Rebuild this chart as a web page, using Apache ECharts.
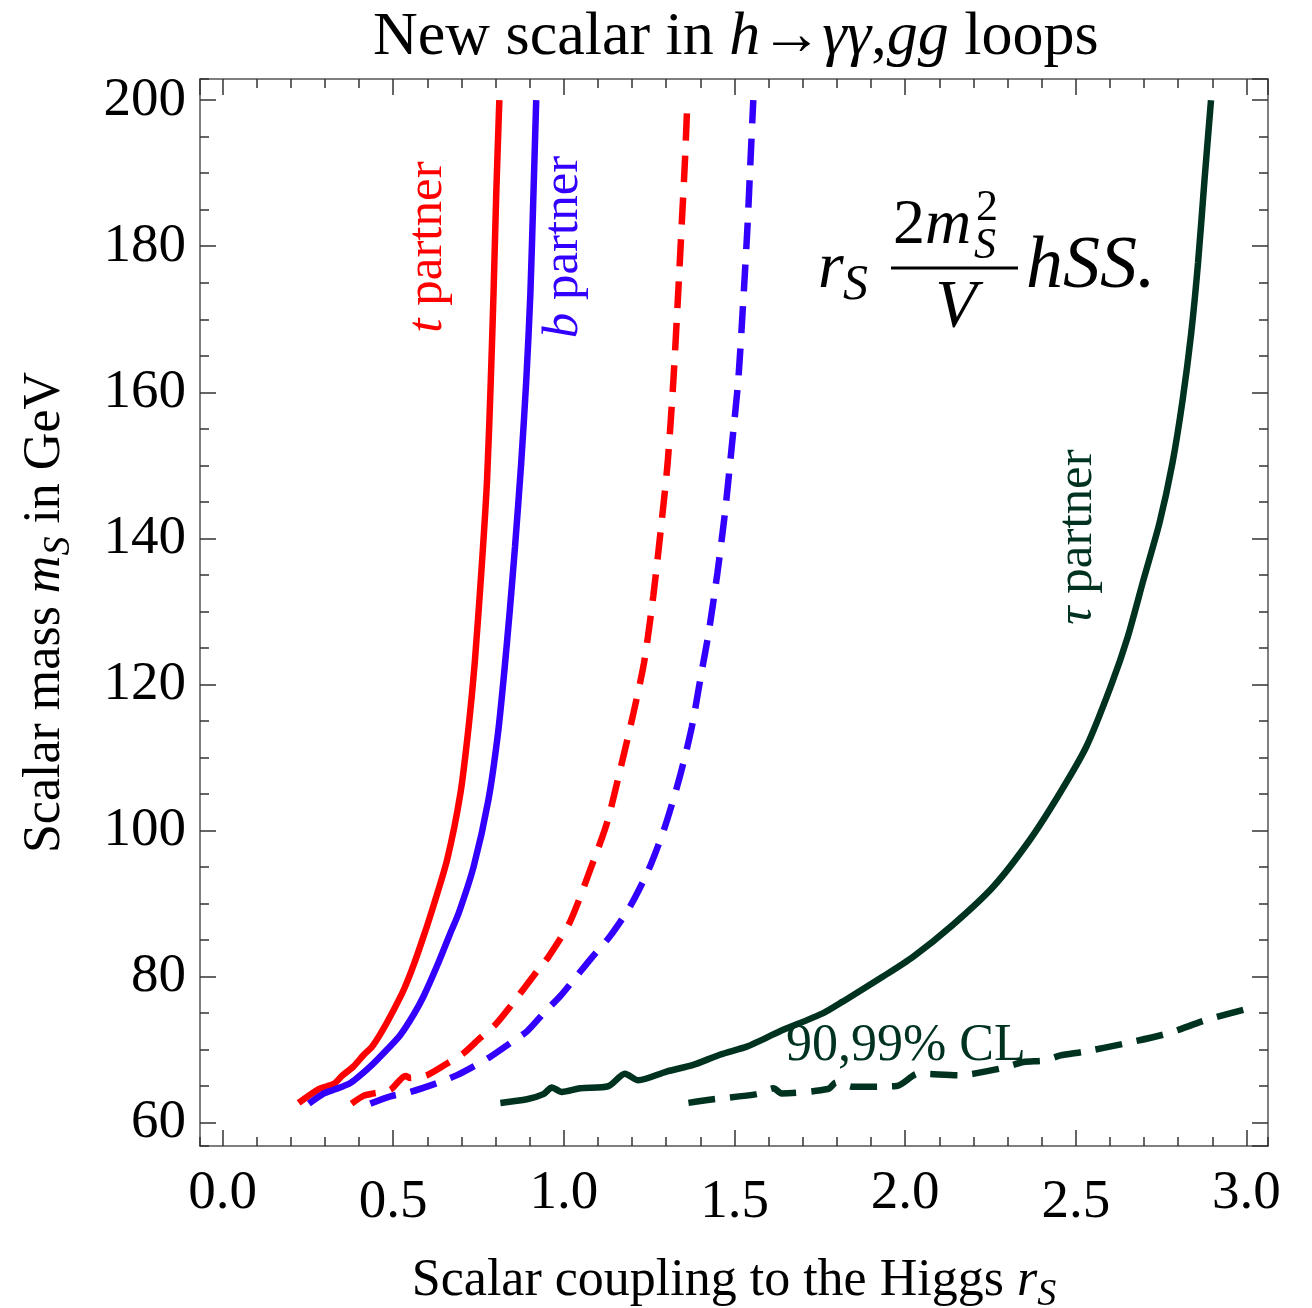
<!DOCTYPE html>
<html>
<head>
<meta charset="utf-8">
<script src="https://cdn.jsdelivr.net/npm/echarts@6/dist/echarts.min.js"></script>
<style>html,body{margin:0;padding:0;background:#fff}#c{width:1312px;height:1308px}</style>
</head>
<body>
<div id="c"></div>
<script>
// ---- data (x = r_S, y = m_S in GeV) ----
const tSolid = [[0.223,62.7],[0.282,64.6],[0.326,65.3],[0.350,66.4],[0.384,67.7],[0.414,69.3],[0.438,70.4],[0.467,72.5],[0.501,75.4],[0.531,78.2],[0.560,81.6],[0.589,85.5],[0.614,89.1],[0.658,96.0],[0.697,105.1],[0.721,114.2],[0.739,123.0],[0.760,136.6],[0.775,148.0],[0.786,161.7],[0.794,173.6],[0.802,187.3],[0.811,200.0]];
const bSolid = [[0.253,62.6],[0.297,64.0],[0.326,64.5],[0.370,65.3],[0.394,66.1],[0.438,67.9],[0.482,70.0],[0.521,72.0],[0.560,74.8],[0.589,77.3],[0.628,81.4],[0.667,85.9],[0.692,88.7],[0.736,95.1],[0.779,104.2],[0.807,113.3],[0.826,122.0],[0.841,129.8],[0.857,138.9],[0.875,150.3],[0.890,161.7],[0.902,173.6],[0.911,187.3],[0.919,200.0]];
const tDashed = [[0.378,62.6],[0.414,63.7],[0.443,64.0],[0.492,64.5],[0.536,66.4],[0.550,66.1],[0.599,66.5],[0.658,68.1],[0.706,69.5],[0.755,71.6],[0.799,73.4],[0.843,75.9],[0.921,80.7],[0.955,82.7],[1.018,87.5],[1.077,94.6],[1.126,101.0],[1.165,108.3],[1.204,116.1],[1.235,123.0],[1.262,132.1],[1.284,141.2],[1.304,150.3],[1.321,161.7],[1.335,173.6],[1.345,182.7],[1.355,191.9],[1.362,200.0]];
const bDashed = [[0.433,62.6],[0.492,63.6],[0.550,64.2],[0.628,65.4],[0.687,66.5],[0.736,67.7],[0.784,69.0],[0.843,70.9],[0.892,72.5],[0.941,75.0],[0.989,77.3],[1.028,79.5],[1.080,82.5],[1.135,85.5],[1.194,89.6],[1.248,94.6],[1.296,100.5],[1.340,107.4],[1.375,114.2],[1.402,121.3],[1.424,127.0],[1.450,135.3],[1.472,143.5],[1.492,152.6],[1.511,161.7],[1.527,173.6],[1.538,182.7],[1.547,191.9],[1.555,200.0]];
const tauSolid = [[0.814,62.7],[0.892,63.2],[0.940,63.9],[0.965,64.8],[0.994,64.2],[1.048,64.7],[1.131,65.0],[1.179,66.7],[1.218,65.8],[1.301,67.0],[1.379,67.9],[1.457,69.3],[1.536,70.4],[1.574,71.2],[1.633,72.5],[1.760,75.0],[1.818,76.6],[1.935,80.0],[2.023,82.7],[2.140,87.1],[2.258,92.3],[2.365,98.7],[2.453,105.1],[2.531,111.5],[2.602,119.7],[2.652,126.5],[2.698,134.3],[2.745,142.1],[2.783,150.3],[2.813,159.0],[2.838,168.1],[2.858,177.7],[2.877,189.1],[2.896,200.0]];
const tauDashed = [[1.365,62.7],[1.438,63.2],[1.565,63.9],[1.614,64.7],[1.638,64.0],[1.774,64.6],[1.798,65.5],[1.848,64.9],[1.975,65.0],[2.038,66.7],[2.161,66.5],[2.278,67.4],[2.347,68.3],[2.406,68.5],[2.455,69.2],[2.523,69.7],[2.640,70.8],[2.768,72.2],[2.885,74.1],[3.012,75.7]];

const xRange = [-0.066, 3.063];
const yRange = [56.8, 202.9];
const xMajor = 0.5, xMinor = 0.1, yMajor = 20, yMinor = 5;

const RED = '#ff0000', BLUE = '#3300ff', GREEN = '#00331f';
const FF = '"Liberation Serif", "Times New Roman", serif';
const DASH = [27, 15];

const chart = echarts.init(document.getElementById('c'), null, {renderer: 'canvas'});
const frame = {color: '#555', width: 1.5};
const tick = {color: '#333', width: 1.5};

function xAx(pos, step, len, major) {
  return {
    type: 'value', position: pos, min: xRange[0], max: xRange[1],
    minInterval: step, maxInterval: step, splitNumber: Math.round((xRange[1]-xRange[0])/step),
    axisLine: {show: major, onZero: false, lineStyle: frame},
    axisTick: {show: true, inside: true, length: len, lineStyle: tick},
    axisLabel: {show: false}, splitLine: {show: false}
  };
}
function yAx(pos, step, len, major) {
  return {
    type: 'value', position: pos, min: yRange[0], max: yRange[1],
    minInterval: step, maxInterval: step, splitNumber: Math.round((yRange[1]-yRange[0])/step),
    axisLine: {show: major, onZero: false, lineStyle: frame},
    axisTick: {show: true, inside: true, length: len, lineStyle: tick},
    axisLabel: {show: false}, splitLine: {show: false}
  };
}

const nameStyle = {
  fontFamily: FF, fontSize: 52, color: '#000',
  rich: {
    n: {fontFamily: FF, fontSize: 52, color: '#000'},
    i: {fontFamily: FF, fontSize: 52, color: '#000', fontStyle: 'italic'},
    s: {fontFamily: FF, fontSize: 38, color: '#000', fontStyle: 'italic', padding: [28, 0, 0, 0]}
  }
};

const xMain = xAx('bottom', xMajor, 16, true);
xMain.axisLabel = {
  show: true, showMinLabel: false, showMaxLabel: false, margin: 20,
  formatter: function (v) {
    const s = v.toFixed(1);
    return (Math.round(v * 2) % 2 === 1) ? '{lo|' + s + '}' : '{hi|' + s + '}';
  },
  rich: {
    hi: {fontFamily: FF, fontSize: 55, color: '#000'},
    lo: {fontFamily: FF, fontSize: 55, color: '#000', padding: [9, 0, 0, 0]}
  }
};
xMain.name = '{n|Scalar coupling to the Higgs }{i|r}{s|S}';
xMain.nameLocation = 'middle';
xMain.nameGap = 102;
xMain.nameTextStyle = nameStyle;

const yMain = yAx('left', yMajor, 16, true);
yMain.axisLabel = {show: true, showMinLabel: false, showMaxLabel: false, margin: 14,
  fontFamily: FF, fontSize: 55, color: '#000'};
yMain.name = '{n|Scalar mass }{i|m}{s|S}{n| in GeV}';
yMain.nameLocation = 'middle';
yMain.nameGap = 122;
yMain.nameTextStyle = nameStyle;

const option = {
  backgroundColor: '#fff',
  animation: false,
  title: {
    text: '{n|New scalar in }{i|h}{n|→}{i|γγ}{n|,}{i|gg}{n| loops}',
    left: 368, top: 2,
    textStyle: {
      fontFamily: FF, fontSize: 62, color: '#000', fontWeight: 'normal',
      rich: {
        n: {fontFamily: FF, fontSize: 62, color: '#000'},
        i: {fontFamily: FF, fontSize: 62, color: '#000', fontStyle: 'italic'}
      }
    }
  },
  grid: {left: 200, top: 79, width: 1068, height: 1067, containLabel: false, outerBoundsMode: 'none'},
  xAxis: [xMain, xAx('bottom', xMinor, 9, false), xAx('top', xMajor, 16, true), xAx('top', xMinor, 9, false)],
  yAxis: [yMain, yAx('left', yMinor, 9, false), yAx('right', yMajor, 16, true), yAx('right', yMinor, 9, false)],
  series: [
    {name: 't partner', type: 'line', data: tSolid, color: RED, lineStyle: {color: RED, width: 6.5}},
    {name: 'b partner', type: 'line', data: bSolid, color: BLUE, lineStyle: {color: BLUE, width: 6.5}},
    {name: 't partner 99', type: 'line', data: tDashed, color: RED, lineStyle: {color: RED, width: 6.5, type: DASH}},
    {name: 'b partner 99', type: 'line', data: bDashed, color: BLUE, lineStyle: {color: BLUE, width: 6.5, type: DASH}},
    {name: 'tau partner', type: 'line', data: tauSolid, color: GREEN, lineStyle: {color: GREEN, width: 6.5}},
    {name: 'tau partner 99', type: 'line', data: tauDashed, color: GREEN, lineStyle: {color: GREEN, width: 6.5, type: DASH}}
  ].map(s => Object.assign(s, {showSymbol: false, symbol: 'none', smooth: 0.25, clip: true, xAxisIndex: 0, yAxisIndex: 0, z: 3})),
  graphic: [
    {type: 'text', x: 428, y: 247, rotation: Math.PI / 2, z: 10,
      style: {text: '{i|t} partner', fill: RED, font: '51px ' + FF, align: 'center', verticalAlign: 'middle',
        rich: {i: {fontStyle: 'italic', fontFamily: FF, fontSize: 51, fill: RED}}}},
    {type: 'text', x: 564, y: 247, rotation: Math.PI / 2, z: 10,
      style: {text: '{i|b} partner', fill: BLUE, font: '51px ' + FF, align: 'center', verticalAlign: 'middle',
        rich: {i: {fontStyle: 'italic', fontFamily: FF, fontSize: 51, fill: BLUE}}}},
    {type: 'text', x: 1078, y: 537, rotation: Math.PI / 2, z: 10,
      style: {text: '{i|τ} partner', fill: GREEN, font: '51px ' + FF, align: 'center', verticalAlign: 'middle',
        rich: {i: {fontStyle: 'italic', fontFamily: FF, fontSize: 51, fill: GREEN}}}},
    {type: 'text', x: 786, y: 1046, z: 10,
      style: {text: '90,99% CL', fill: GREEN, font: '52px ' + FF, align: 'left', verticalAlign: 'middle'}},
    // formula r_S (2 m_S^2 / V) hSS.
    {type: 'text', x: 818, y: 270, z: 10, style: {text: 'r', fill: '#000', font: 'italic 66px ' + FF, align: 'left', verticalAlign: 'middle'}},
    {type: 'text', x: 843, y: 286, z: 10, style: {text: 'S', fill: '#000', font: 'italic 50px ' + FF, align: 'left', verticalAlign: 'middle'}},
    {type: 'text', x: 893, y: 226, z: 10, style: {text: '2', fill: '#000', font: '64px ' + FF, align: 'left', verticalAlign: 'middle'}},
    {type: 'text', x: 925, y: 226, z: 10, style: {text: 'm', fill: '#000', font: 'italic 64px ' + FF, align: 'left', verticalAlign: 'middle'}},
    {type: 'text', x: 976, y: 208, z: 10, style: {text: '2', fill: '#000', font: '44px ' + FF, align: 'left', verticalAlign: 'middle'}},
    {type: 'text', x: 974, y: 246, z: 10, style: {text: 'S', fill: '#000', font: 'italic 44px ' + FF, align: 'left', verticalAlign: 'middle'}},
    {type: 'line', z: 10, shape: {x1: 891, y1: 268, x2: 1018, y2: 268}, style: {stroke: '#000', lineWidth: 3}},
    {type: 'text', x: 956, y: 308, z: 10, style: {text: 'V', fill: '#000', font: 'italic 68px ' + FF, align: 'center', verticalAlign: 'middle'}},
    {type: 'text', x: 1026, y: 268, z: 10, style: {text: 'hSS.', fill: '#000', font: 'italic 74px ' + FF, align: 'left', verticalAlign: 'middle'}}
  ]
};
chart.setOption(option);
</script>
</body>
</html>
